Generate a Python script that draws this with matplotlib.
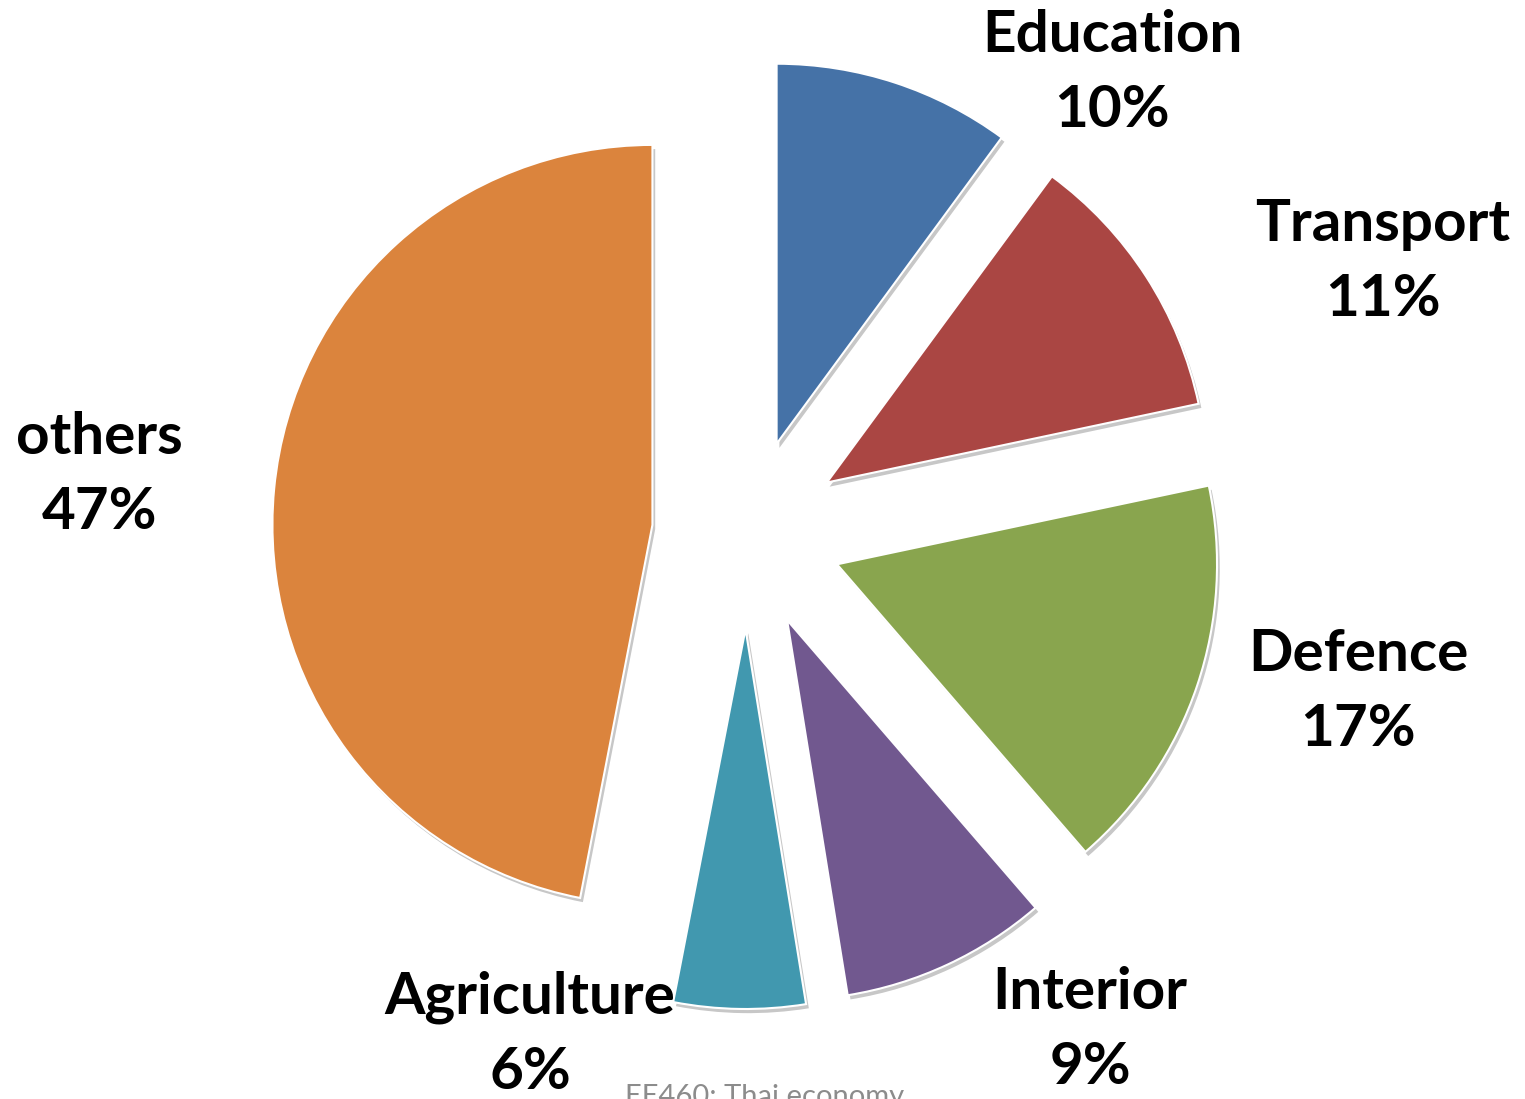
import matplotlib.pyplot as plt
import matplotlib.patheffects as pe

# budget shares, clockwise from 12 o'clock (wedge sizes)
categories = ['Education', 'Transport', 'Defence', 'Interior', 'Agriculture', 'others']
shares = [10.1, 11.6, 17.0, 8.8, 5.6, 47.0]
pct_labels = ['10%', '11%', '17%', '9%', '6%', '47%']
colors = ['#4572A7', '#AA4643', '#89A54E', '#71588F', '#4198AF', '#DB843D']

# label centres in data units (pie radius = 1)
label_pos = [(0.961, 1.213), (1.674, 0.716), (1.608, -0.416),
             (0.903, -1.305), (-0.571, -1.318), (-1.703, 0.155)]

W, H = 1525, 1099
scale = 380.0          # px per data unit
cx, cy = 747, 534      # pie centre in px (from top-left)

fig = plt.figure(figsize=(W / 100, H / 100), dpi=100)
ax = fig.add_axes([0, 0, 1, 1])

wedges, _ = ax.pie(shares, colors=colors, startangle=90, counterclock=False,
                   explode=[0.25] * len(shares), radius=1.0,
                   wedgeprops=dict(edgecolor='white', linewidth=1.5))
for w in wedges:
    w.set_path_effects([pe.SimplePatchShadow(offset=(2, -3), shadow_rgbFace='#000000', alpha=0.22),
                        pe.Normal()])

# pie() resets the limits, so set them afterwards
ax.set_xlim(-cx / scale, (W - cx) / scale)
ax.set_ylim(-(H - cy) / scale, cy / scale)
ax.set_aspect('equal')
ax.axis('off')

for name, pct, (x, y) in zip(categories, pct_labels, label_pos):
    ax.text(x, y, f'{name}\n{pct}', ha='center', va='center',
            fontsize=42, fontweight='bold', family='Lato', linespacing=1.52)

ax.text(-0.321, -1.503, 'EE460: Thai economy', ha='left', va='baseline',
        fontsize=21, color='#8c8c8c', family='Lato')

fig.savefig('out.png', dpi=100)
